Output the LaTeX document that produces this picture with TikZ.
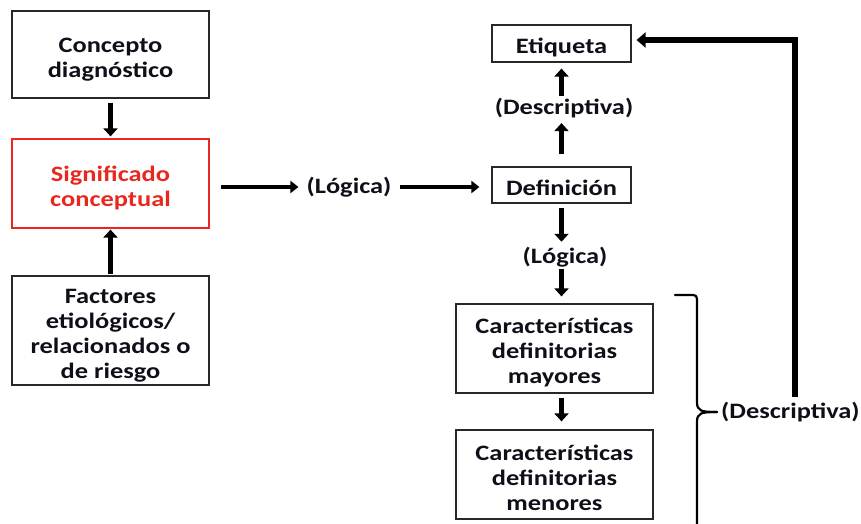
\documentclass[tikz,border=0pt]{standalone}
\usepackage{fontspec}
\setmainfont{Carlito}[FakeStretch=1.2]
\usetikzlibrary{arrows.meta}
\definecolor{boxline}{RGB}{40,40,40}
\definecolor{redtxt}{RGB}{232,40,30}
\definecolor{txt}{RGB}{15,15,25}
% fixed first-line height and last-line depth, so every box sets its text alike
\newcommand\toprule{\rule{0pt}{24pt}}
\newcommand\botrule{\rule[-3pt]{0pt}{0pt}}
\begin{document}
\begin{tikzpicture}[x=1pt,y=-1pt,
  box/.style={draw=boxline,line width=1.2pt,align=center,inner sep=0pt,text=txt,
    font=\fontsize{22}{25}\selectfont\bfseries},
  lbl/.style={inner sep=0pt,text=txt,font=\fontsize{22}{25}\selectfont\bfseries},
  varrow/.style={line width=5pt,-{Triangle[length=8pt,width=14pt]}},
  harrow/.style={line width=4pt,-{Triangle[length=8pt,width=12pt]}},
  bracket/.style={line width=2.2pt,line cap=round,line join=round}]
\useasboundingbox (0,0) rectangle (861,524);
% left column
\node[box,minimum width=197pt,minimum height=87pt] (concepto) at (110.5,54.5) {\toprule Concepto\\diagnóstico\botrule};
\node[box,draw=redtxt,text=redtxt,minimum width=197pt,minimum height=89pt] (signif) at (110.5,183.5) {\toprule Significado\\conceptual\botrule};
\node[box,minimum width=197pt,minimum height=109pt] (factores) at (110.5,330.5) {\toprule Factores\\etiológicos/\\relacionados o\\de riesgo\botrule};
\draw[varrow,shorten <=4pt,shorten >=2pt] (concepto.south) -- (signif.north);
\draw[varrow,shorten <=1pt,shorten >=1pt] (factores.north) -- (signif.south);
% right column
\node[box,minimum width=139pt,minimum height=37pt] (etiqueta) at (561.5,43.5) {\toprule Etiqueta\botrule};
\node[box,minimum width=139pt,minimum height=36pt] (definicion) at (561.5,185) {\toprule Definición\botrule};
\node[box,minimum width=197pt,minimum height=89pt] (mayores) at (554.5,348.5) {\toprule Características\\definitorias\\mayores\botrule};
\node[box,minimum width=197pt,minimum height=89pt] (menores) at (554.5,474.5) {\toprule Características\\definitorias\\menores\botrule};
% labels
\node[lbl] (logica1) at (349,187) {(Lógica)};
\node[lbl] (desc1) at (564,108) {(Descriptiva)};
\node[lbl] (logica2) at (565,257) {(Lógica)};
\node[lbl,anchor=west] (desc2) at (721,412) {(Descriptiva)};
% horizontal chain
\draw[harrow,shorten <=11pt,shorten >=8pt] (signif.east |- logica1) -- (logica1.west);
\draw[harrow,shorten <=8pt,shorten >=12pt] (logica1.east) -- (definicion.west |- logica1);
% definition up to the label
\draw[varrow,shorten <=12pt,shorten >=5pt] (definicion.north) -- (desc1.south -| definicion);
\draw[varrow,shorten <=2pt,shorten >=6pt] (desc1.north -| etiqueta) -- (etiqueta.south);
% definition down to the characteristics
\draw[varrow,shorten <=4pt,shorten >=5pt] (definicion.south) -- (logica2.north -| definicion);
\draw[varrow,shorten <=2pt,shorten >=7pt] (logica2.south -| definicion) -- (mayores.north -| definicion);
\draw[varrow,shorten <=4pt,shorten >=8pt] (mayores.south -| definicion) -- (menores.north -| definicion);
% bracket around the characteristics
\coordinate (btop) at (675,295);
\coordinate (btip) at (717,412);
\draw[bracket] (btop) -- (689,295) .. controls (697,295) .. (697,303)
  -- (697,402) .. controls (697,411) and (701,412) .. (btip);
\draw[bracket] (btip) .. controls (701,412) and (697,413) .. (697,422) -- (697,530);
% feedback to the label
\coordinate (loopfoot) at (795,397);
\coordinate (loopcorner) at (795,40);
\draw[line width=5.5pt,-{Triangle[length=9pt,width=15pt]}] (loopfoot) -- (loopcorner) -- ([xshift=5pt]etiqueta.east |- loopcorner);
\end{tikzpicture}
\end{document}
